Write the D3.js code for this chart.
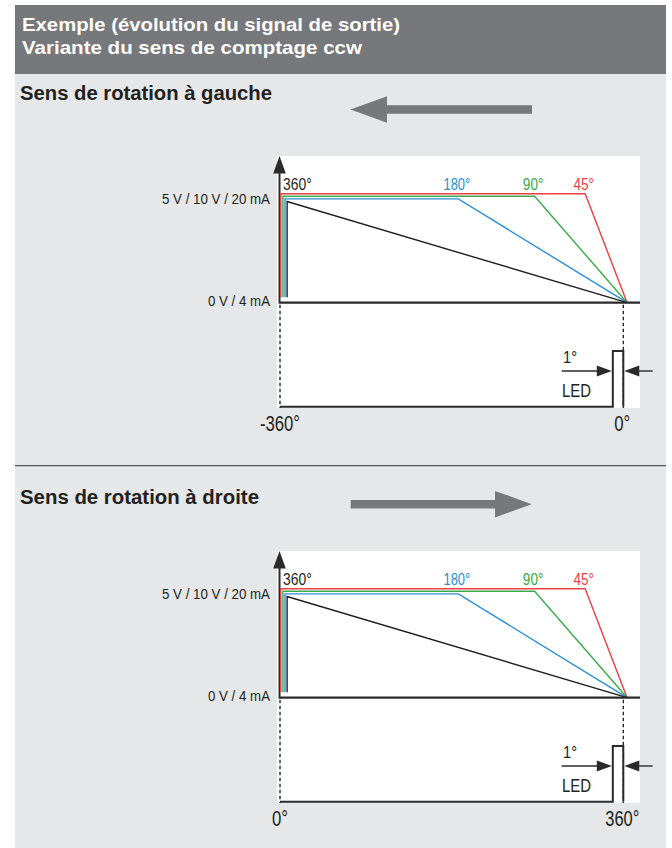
<!DOCTYPE html>
<html><head><meta charset="utf-8">
<script src="https://cdn.jsdelivr.net/npm/d3@7"></script>
<style>body{margin:0;background:#fff}svg{display:block}</style>
</head><body><svg id="c" width="672" height="848"></svg>
<script>
// ---- data ----
const headerLines = ["Exemple (évolution du signal de sortie)", "Variante du sens de comptage ccw"];
const sectionTitles = ["Sens de rotation à gauche", "Sens de rotation à droite"];
const rotationDir = ["left", "right"];
const seriesNames = ["45°", "90°", "180°", "360°"];
const rampStartDeg = [320, 267, 187, 0];   // where each curve starts dropping (within the 360° sweep)
const rampEndDeg = 364;                     // where all curves reach 0
const outputLevel = [1, 1, 1, 1];
const yTickValues = [0, 1];
const yTickLabels = ["0 V / 4 mA", "5 V / 10 V / 20 mA"];
const xTickValues = [0, 360];
const xTickLabelsTop = ["-360°", "0°"];
const xTickLabelsBottom = ["0°", "360°"];
const ledWindowDeg = [349, 360];
const ledLevels = [0, 1];
const ledLabel = "LED";
const ledWidthLabel = "1°";

// ---- style ----
const FONT = "'Liberation Sans',Arial,Helvetica,sans-serif";
const seriesColors = ["#ee3e45", "#3aab4a", "#2a8fd4", "#231f20"];
const DARK = "#2b2a2b";
const svg = d3.select("#c");

function txt(g, s, x, y, size, opt = {}) {
  const t = g.append("text").attr("x", x).attr("y", y).text(s)
    .attr("font-family", FONT).attr("font-size", size)
    .attr("font-weight", opt.weight || "normal")
    .attr("fill", opt.fill || "#231f20")
    .attr("text-anchor", opt.anchor || "start");
  if (opt.width) t.attr("textLength", opt.width).attr("lengthAdjust", "spacingAndGlyphs");
  return t;
}

// background panels
svg.append("rect").attr("x", 15).attr("y", 5).attr("width", 651).attr("height", 843).attr("fill", "#e6e7e8");
svg.append("rect").attr("x", 15).attr("y", 5).attr("width", 651).attr("height", 69).attr("fill", "#77787b");
txt(svg, headerLines[0], 22, 30.7, 18.5, {weight: "bold", fill: "#fff", width: 378});
txt(svg, headerLines[1], 22, 53.5, 18.5, {weight: "bold", fill: "#fff", width: 340});
svg.append("line").attr("x1", 15).attr("x2", 666).attr("y1", 465.7).attr("y2", 465.7)
  .attr("stroke", "#555658").attr("stroke-width", 1.2);

const sections = [
  {off: 0, titleY: 99.5, titleW: 252, arrowY: 109.5, ticks: xTickLabelsTop},
  {off: 395, titleY: 504, titleW: 239, arrowY: 504.2, ticks: xTickLabelsBottom}
];

const x = d3.scaleLinear().domain([0, 360]).range([280, 623.3]);
const y = d3.scaleLinear().domain([0, 1]).range([302.7, 193.7]);
const yLed = d3.scaleLinear().domain([0, 1]).range([406.7, 351]);

sections.forEach((sec, si) => {
  const g = svg.append("g").attr("transform", `translate(0,${sec.off})`);
  txt(svg, sectionTitles[si], 20, sec.titleY, 20, {weight: "bold", width: sec.titleW});

  // direction arrow
  const ay = sec.arrowY - sec.off;
  const dir = rotationDir[si];
  let pts;
  if (dir === "left") {
    pts = [[350.5, ay], [387, ay - 13.3], [387, ay - 4.2], [532, ay - 4.2], [532, ay + 4.2], [387, ay + 4.2], [387, ay + 13.3]];
  } else {
    pts = [[531.7, ay], [495, ay - 13.3], [495, ay - 4.2], [350.7, ay - 4.2], [350.7, ay + 4.2], [495, ay + 4.2], [495, ay + 13.3]];
  }
  g.append("polygon").attr("points", pts.map(p => p.join(",")).join(" ")).attr("fill", "#77787b");

  // white plot area
  g.append("rect").attr("x", 277).attr("y", 156).attr("width", 363).attr("height", 252).attr("fill", "#fff");

  // y axis with arrow
  g.append("line").attr("x1", 279.5).attr("x2", 279.5).attr("y1", 170).attr("y2", y(0) + 1)
    .attr("stroke", DARK).attr("stroke-width", 2);
  g.append("polygon").attr("points", `279.5,156 273.2,173.5 285.8,173.5`).attr("fill", DARK);

  // y labels
  yTickValues.forEach((v, i) => {
    txt(g, yTickLabels[i], 270, y(v) + (v === 1 ? 9.8 : 3.6), 15.5, {anchor: "end", width: v === 1 ? 108 : 62});
  });

  // series
  seriesNames.forEach((name, k) => {
    const col = seriesColors[k];
    const dx = 280.8 + k * 2.1;
    const ly = y(outputLevel[k]) + k * 2.6;
    const bx = Math.max(x(rampStartDeg[k]), dx);
    const path = d3.path();
    path.moveTo(dx, 297.3);
    path.lineTo(dx, ly);
    path.lineTo(bx, ly);
    path.lineTo(x(rampEndDeg), y(0));
    g.append("path").attr("d", path.toString()).attr("fill", "none")
      .attr("stroke", col).attr("stroke-width", 1.4).attr("stroke-linejoin", "miter");
    if (rampStartDeg[k] === 0) {
      txt(g, name, 283, 190.3, 16.5, {fill: col, width: 28.7});
    } else {
      txt(g, name, x(rampStartDeg[k]) - 1.5, 190.3, 16.5, {fill: col, anchor: "middle", width: name.length > 3 ? 26.7 : 20.5});
    }
  });

  // zero line
  g.append("line").attr("x1", 280).attr("x2", 640).attr("y1", y(0)).attr("y2", y(0))
    .attr("stroke", DARK).attr("stroke-width", 2.2);

  // dashed guides
  xTickValues.forEach(v => {
    g.append("line").attr("x1", x(v)).attr("x2", x(v)).attr("y1", y(0) + 2).attr("y2", 408)
      .attr("stroke", DARK).attr("stroke-width", 1.4).attr("stroke-dasharray", "3.5,2.5");
  });

  // LED pulse
  const lp = d3.path();
  lp.moveTo(x(0), yLed(ledLevels[0]));
  lp.lineTo(x(ledWindowDeg[0]), yLed(ledLevels[0]));
  lp.lineTo(x(ledWindowDeg[0]), yLed(ledLevels[1]));
  lp.lineTo(x(ledWindowDeg[1]), yLed(ledLevels[1]));
  lp.lineTo(x(ledWindowDeg[1]), yLed(ledLevels[0]));
  g.append("path").attr("d", lp.toString()).attr("fill", "none").attr("stroke", DARK).attr("stroke-width", 2);

  // width arrows
  const ary = 371;
  const lx = x(ledWindowDeg[0]) - 1, rx = x(ledWindowDeg[1]) + 1;
  g.append("line").attr("x1", 561.7).attr("x2", lx - 10).attr("y1", ary).attr("y2", ary).attr("stroke", DARK).attr("stroke-width", 1.4);
  g.append("polygon").attr("points", `${lx},${ary} ${lx - 15},${ary - 5.6} ${lx - 15},${ary + 5.6}`).attr("fill", DARK);
  g.append("line").attr("x1", rx + 10).attr("x2", 652.7).attr("y1", ary).attr("y2", ary).attr("stroke", DARK).attr("stroke-width", 1.4);
  g.append("polygon").attr("points", `${rx},${ary} ${rx + 15},${ary - 5.6} ${rx + 15},${ary + 5.6}`).attr("fill", DARK);
  txt(g, ledWidthLabel, 563, 362.7, 16.5, {width: 14});
  txt(g, ledLabel, 562, 396.7, 18.5, {width: 29});

  // x end labels
  xTickValues.forEach((v, i) => {
    const s = sec.ticks[i];
    const w = s === "-360°" ? 40 : s === "360°" ? 34 : 16;
    txt(g, s, x(v) - (i === 1 ? 1 : 0), 431, 21.5, {anchor: "middle", width: w});
  });
});
</script>
</body></html>
